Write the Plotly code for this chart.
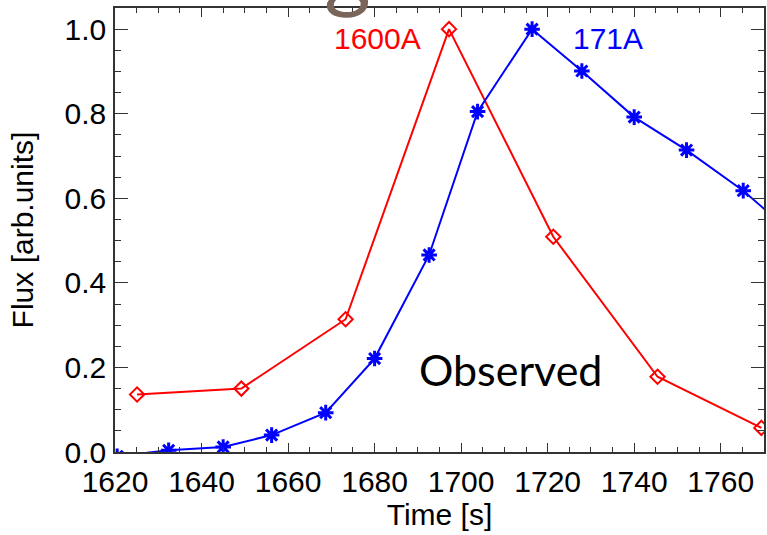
import plotly.graph_objects as go

# 171A (blue, asterisk markers)
t171 = [1620.5, 1632.4, 1645.0, 1656.2, 1668.7, 1680.0, 1692.6, 1703.8, 1716.4, 1727.9, 1740.0, 1752.1, 1765.2, 1777.3]
f171 = [-0.01, 0.004, 0.012, 0.040, 0.093, 0.221, 0.466, 0.805, 1.0, 0.901, 0.792, 0.714, 0.618, 0.51]

# 1600A (red, diamond markers)
t1600 = [1625.1, 1649.2, 1673.3, 1697.2, 1721.3, 1745.4, 1769.4]
f1600 = [0.136, 0.150, 0.314, 1.0, 0.509, 0.178, 0.057]

xticks = [1620, 1640, 1660, 1680, 1700, 1720, 1740, 1760]
yticks = [0.0, 0.2, 0.4, 0.6, 0.8, 1.0]
ytick_text = ["0.0", "0.2", "0.4", "0.6", "0.8", "1.0"]

FONT = "Liberation Sans, Arial, Helvetica, sans-serif"
FS = 30

fig = go.Figure()
fig.add_trace(go.Scatter(
    x=t1600, y=f1600, mode="lines+markers",
    line=dict(color="#ff0000", width=2),
    marker=dict(symbol="diamond-open", size=11, color="#ff0000", line=dict(width=2, color="#ff0000")),
    showlegend=False,
))
fig.add_trace(go.Scatter(
    x=t171, y=f171, mode="lines+markers",
    line=dict(color="#0000ff", width=2),
    marker=dict(symbol="asterisk-open", size=13, color="#0000ff", line=dict(width=3, color="#0000ff")),
    showlegend=False,
))

axis_common = dict(
    showline=True, linecolor="#333333", linewidth=1.5, mirror="ticks",
    ticks="inside", tickcolor="#333333", tickwidth=1.2,
    showgrid=False, zeroline=False,
    tickfont=dict(family=FONT, size=FS, color="#000000"),
)

fig.update_xaxes(
    range=[1620, 1770], tickvals=xticks, ticklen=9,
    minor=dict(dtick=5, ticks="inside", ticklen=5, tickcolor="#333333", tickwidth=1.2, showgrid=False),
    title=dict(text="Time [s]", font=dict(family=FONT, size=FS, color="#000000"), standoff=7),
    ticklabelstandoff=2,
    **axis_common,
)
fig.update_yaxes(
    range=[0, 1.05], tickvals=yticks, ticktext=ytick_text, ticklen=13,
    minor=dict(dtick=0.05, ticks="inside", ticklen=6, tickcolor="#333333", tickwidth=1.2, showgrid=False),
    title=dict(text="Flux [arb.units]", font=dict(family=FONT, size=FS, color="#000000"), standoff=22),
    ticklabelstandoff=1,
    **axis_common,
)

fig.add_annotation(x=1680.6, y=1.0, xref="x", yref="y", text="1600A", showarrow=False,
                   font=dict(family=FONT, size=FS, color="#ff0000"), xanchor="center", yanchor="middle",
                   yshift=-9)
fig.add_annotation(x=1734, y=1.0, xref="x", yref="y", text="171A", showarrow=False,
                   font=dict(family=FONT, size=FS, color="#0000ff"), xanchor="center", yanchor="middle",
                   yshift=-9)
fig.add_annotation(x=1711.5, y=0.195, xref="x", yref="y", text="Observed", showarrow=False,
                   font=dict(family="Lato, sans-serif", size=43, color="#000000"), xanchor="center", yanchor="middle")
fig.add_annotation(x=(348 - 115) / 651, y=1.0, xref="paper", yref="paper", text="g", showarrow=False,
                   font=dict(family="Lato, sans-serif", size=90, color="#7a655a"), xanchor="center", yanchor="bottom",
                   yshift=-14)

fig.update_layout(
    width=767, height=535,
    margin=dict(l=115, r=1, t=8, b=83),
    paper_bgcolor="white", plot_bgcolor="white",
)

fig.write_html("out.html")
